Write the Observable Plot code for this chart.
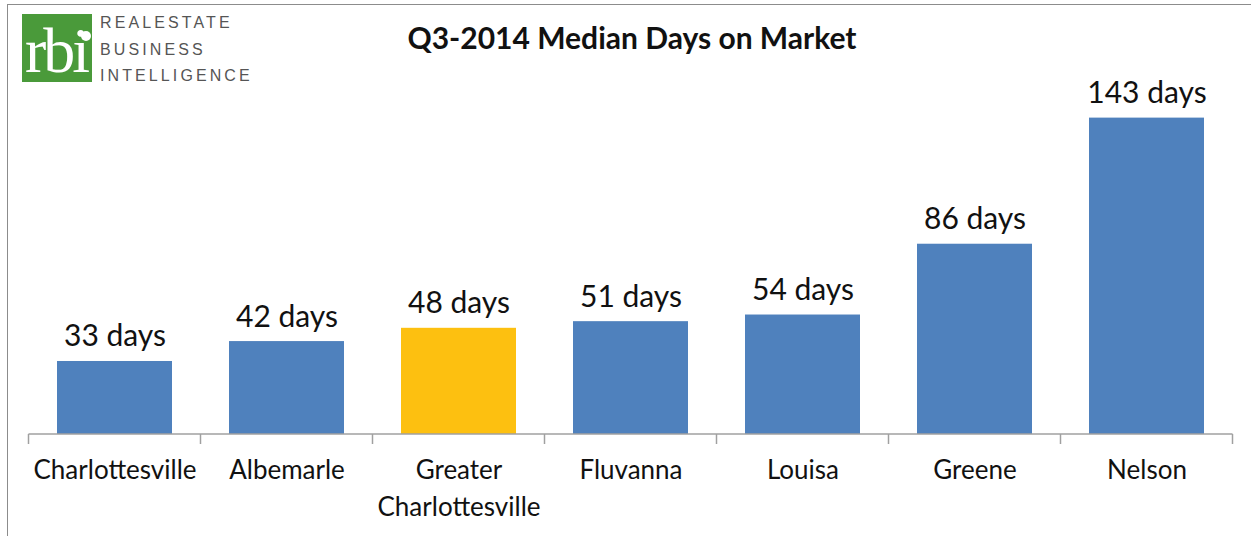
<!DOCTYPE html>
<html>
<head>
<meta charset="utf-8">
<script src="https://cdn.jsdelivr.net/npm/d3@7"></script>
<script src="https://cdn.jsdelivr.net/npm/@observablehq/plot@0.6"></script>
<style>
  body { margin: 0; background: #fff; }
  #wrap { position: relative; width: 1251px; height: 536px; overflow: hidden; font-family: Lato, "Open Sans", sans-serif; }
  #chart { position: absolute; left: 0; top: 0; }
  #border { position: absolute; left: 7px; top: 4px; width: 1300px; height: 600px; border-left: 1.5px solid #8c8c8c; border-top: 1.5px solid #8c8c8c; }
  #title { position: absolute; left: 0; width: 1264px; top: 19px; text-align: center; font-weight: bold; font-size: 30px; color: #111; }
  #logo { position: absolute; left: 22px; top: 14px; }
</style>
</head>
<body>
<div id="wrap">
  <div id="border"></div>
  <div id="chart"></div>
  <div id="title">Q3-2014 Median Days on Market</div>
  <svg id="logo" width="240" height="72">
    <rect x="0" y="0" width="70" height="68" fill="#4a9a3a"></rect>
    <text x="34" y="58" text-anchor="middle" fill="#fff" font-family="Liberation Serif, DejaVu Serif, serif" font-size="64" letter-spacing="-3">rbi</text>
    <circle cx="64" cy="22" r="5" fill="#fff"></circle>
    <g font-family="Liberation Sans, sans-serif" font-size="16" fill="#555" letter-spacing="3.1">
      <text x="78" y="14">REALESTATE</text>
      <text x="78" y="41">BUSINESS</text>
      <text x="78" y="67">INTELLIGENCE</text>
    </g>
  </svg>
</div>
<script>
const categories = ["Charlottesville", "Albemarle", "Greater Charlottesville", "Fluvanna", "Louisa", "Greene", "Nelson"];
const days = [33, 42, 48, 51, 54, 86, 143];
const highlight = "Greater Charlottesville";
const tickLabels = {"Greater Charlottesville": "Greater\nCharlottesville"};

const data = categories.map((c, i) => ({category: c, days: days[i]}));

const boundaryTicks = (index, scales, values, dimensions) => {
  const x = scales.x, y = scales.y;
  const y0 = y(0);
  const half = (x.step() - x.bandwidth()) / 2;
  const g = d3.create("svg:g").attr("stroke", "#a0a0a0").attr("stroke-width", 1.5);
  const xs = categories.map(c => x(c) - half);
  xs.push(x(categories[categories.length - 1]) + x.bandwidth() + half);
  g.append("line").attr("x1", xs[0]).attr("x2", xs[xs.length - 1]).attr("y1", y0).attr("y2", y0);
  for (const xv of xs) g.append("line").attr("x1", xv).attr("x2", xv).attr("y1", y0).attr("y2", y0 + 10);
  return g.node();
};

const chart = Plot.plot({
  width: 1251,
  height: 536,
  marginTop: 80,
  marginRight: 16,
  marginBottom: 102,
  marginLeft: 25,
  style: {fontFamily: "Lato, 'Open Sans', sans-serif", background: "transparent", overflow: "visible"},
  x: {domain: categories, paddingInner: 0.333, paddingOuter: 0.1665, label: null},
  y: {domain: [0, 160], axis: null},
  marks: [
    Plot.barY(data, {x: "category", y: "days", fill: d => d.category === highlight ? "#fdc010" : "#4f81bd"}),
    Plot.text(data, {x: "category", y: "days", text: d => `${d.days} days`, lineAnchor: "bottom", dy: -15, fontSize: 30, fill: "#111"}),
    boundaryTicks,
    Plot.axisX({tickSize: 0, tickPadding: 18, fontSize: 26, fill: "#111", tickFormat: d => tickLabels[d] ?? d, label: null, lineHeight: 1.42})
  ]
});
document.getElementById("chart").appendChild(chart);
</script>
</body>
</html>
